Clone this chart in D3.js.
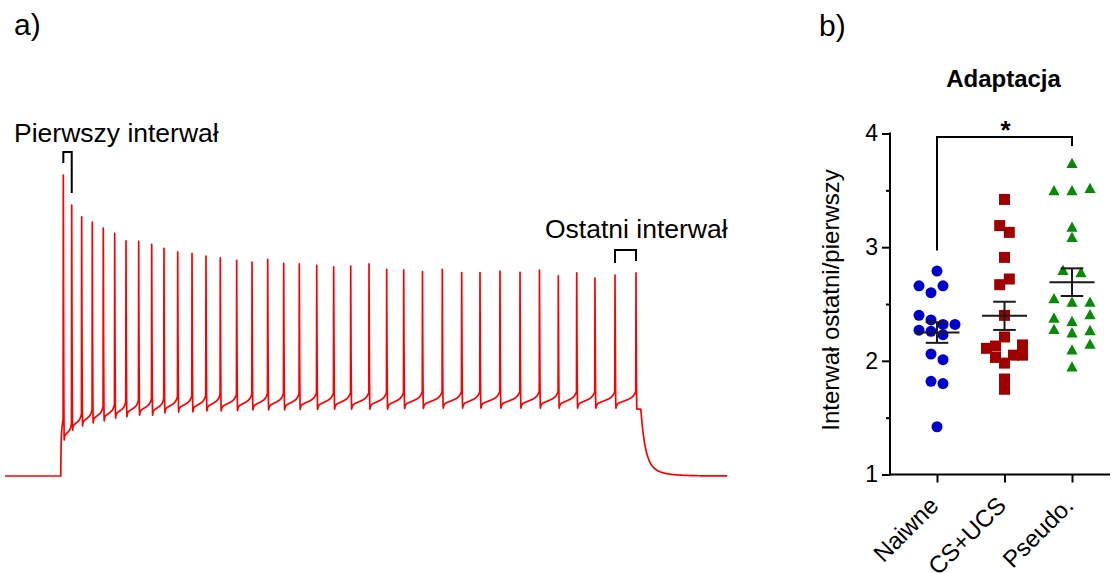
<!DOCTYPE html>
<html>
<head>
<meta charset="utf-8">
<script src="https://cdn.jsdelivr.net/npm/d3@7"></script>
<style>
  html, body { margin: 0; padding: 0; background: #fff; }
  svg { display: block; font-family: "Liberation Sans", Arial, sans-serif; }
</style>
</head>
<body>
<svg id="fig" width="1118" height="573"></svg>
<script>
// ---------- panel a: membrane potential during a depolarising current step ----------
const stimOn = 96.3;          // ms, current step start
const stimOff = 1097.8;       // ms, current step end
const recordEnd = 1247;       // ms
const restPotential = -70;    // mV
const onsetThreshold = -51;   // mV, potential reached just before the first spike

// spike times (ms)
const spikeTimes = [100.7, 115.2, 132.4, 150.7, 169.7, 189.4, 208.9, 230.8, 253.3, 274.5,
  298.2, 322.9, 347.0, 371.7, 400.0, 426.5, 453.6, 481.2, 508.1, 538.2,
  567.5, 596.9, 628.5, 659.0, 688.4, 720.8, 755.0, 788.5, 820.1, 854.6,
  889.2, 922.8, 955.3, 987.1, 1018.6, 1053.2, 1089.4];
// spike peak potentials (mV)
const spikePeaks = [30.3, 20.3, 16.4, 14.6, 12.6, 10.9, 8.4, 8.2, 7.2, 5.9,
  4.7, 4.2, 3.3, 2.7, 1.9, 1.3, 2.2, 0.9, 0.7, 0.2,
  -0.3, 0.0, 0.7, -1.1, -1.3, -1.9, -1.1, -2.2, -2.2, -1.7,
  -2.1, -1.4, -3.3, -2.3, -4.0, -3.0, -2.3];
// after-hyperpolarisation minimum following each spike (mV)
const ahpTroughs = [-58.0, -54.7, -53.3, -52.3, -51.6, -50.7, -50.2, -49.7, -49.7, -49.0,
  -48.7, -48.6, -48.3, -48.3, -48.2, -48.0, -48.0, -48.0, -47.8, -47.8,
  -47.7, -47.7, -47.7, -47.7, -47.5, -47.5, -47.4, -47.4, -47.4, -47.4,
  -47.4, -47.4, -47.4, -47.4, -47.4, -47.4, -47.7];

// ---------- panel b: adaptation ratio (last / first interspike interval) ----------
const groups = ["Naiwne", "CS+UCS", "Pseudo."];
const naiwne = [2.79, 2.66, 2.66, 2.60, 2.40, 2.36, 2.32, 2.32, 2.27, 2.26, 2.23, 2.06, 2.01, 1.82, 1.80, 1.42];
const naiwneJitter = [0, -1.5, 0.5, -0.5, -1.5, -0.5, 0.5, 1.5, -1.5, -0.5, 0.5, -0.5, 0.5, -0.5, 0.5, 0];
const csUcs = [3.42, 3.19, 3.13, 2.91, 2.72, 2.67, 2.40, 2.21, 2.14, 2.13, 2.11, 2.05, 2.05, 2.03, 1.98, 1.84, 1.75];
const csUcsJitter = [0, -0.4, 0.4, 0, 0.4, -0.4, 0, 0, 1.5, -0.75, -1.5, 0.75, 1.5, -0.75, 0, 0, 0];
const pseudo = [3.74, 3.52, 3.50, 3.50, 3.18, 3.09, 2.80, 2.78, 2.55, 2.52, 2.52, 2.41, 2.38, 2.35, 2.28, 2.27, 2.25, 2.15, 2.10, 1.95];
const pseudoJitter = [0, 1.5, -1.5, 0, 0, 0, -0.75, 0.75, -1.5, 0, 1.5, 1.5, -1.5, 0, -1.5, 1.5, 0, 1.5, 0, 0];
const yTicks = [1, 2, 3, 4];
const yMinorTicks = [1.5, 2.5, 3.5];

const svg = d3.select("#fig");
const FONT = "Liberation Sans, Arial, sans-serif";

// panel letters
svg.append("text").attr("x", 14).attr("y", 35).attr("font-size", 30).text("a)");
svg.append("text").attr("x", 819).attr("y", 36).attr("font-size", 30).text("b)");

// ===================== panel a =====================
const xA = d3.scaleLinear().domain([0, 1250]).range([5, 729]);
const yA = d3.scaleLinear().domain([-70, 30]).range([476, 176]);

const riseDur = 0.4, fallDur = 1.6, rampDepol = 5.5;
const nSp = spikeTimes.length;

// interspike ramp shape: quick partial recovery, slow drift, then accelerating to threshold
function ramp(s) {
  return 0.25 * (1 - Math.exp(-s / 0.04)) + 0.45 * s + 0.3 * Math.pow(s, 8);
}

function vm(t) {
  if (t < stimOn) return restPotential;
  if (t >= stimOff) {
    const v0 = ahpTroughs[nSp - 1], dt = t - stimOff;
    return restPotential + (v0 - restPotential) * (0.8 * Math.exp(-dt / 7.5) + 0.2 * Math.exp(-dt / 25));
  }
  const k = d3.bisectRight(spikeTimes, t) - 1;   // last spike at or before t
  // upstroke of the next spike
  if (k + 1 < nSp && t > spikeTimes[k + 1] - riseDur) {
    const j = k + 1;
    const thr = j === 0 ? onsetThreshold : ahpTroughs[j - 1] + rampDepol;
    const u = (t - (spikeTimes[j] - riseDur)) / riseDur;
    return thr + (spikePeaks[j] - thr) * u;
  }
  if (k < 0) {
    const dt = t - stimOn, L = spikeTimes[0] - riseDur - stimOn;
    return restPotential + (onsetThreshold - restPotential) *
      (0.7 * (1 - Math.exp(-dt / 0.5)) + 0.3 * dt / L);
  }
  const ts = spikeTimes[k];
  if (t < ts + fallDur) {
    const u = (t - ts) / fallDur;
    return spikePeaks[k] + (ahpTroughs[k] - spikePeaks[k]) * (1 - (1 - u) * (1 - u));
  }
  if (k === nSp - 1) return ahpTroughs[k];
  const a = ts + fallDur, b = spikeTimes[k + 1] - riseDur;
  return ahpTroughs[k] + rampDepol * ramp((t - a) / (b - a));
}

const tSamples = d3.range(0, recordEnd, 0.1)
  .concat(spikeTimes, spikeTimes.map(t => t - riseDur), [stimOn, stimOff])
  .sort((a, b) => a - b);

svg.append("path")
  .datum(tSamples)
  .attr("fill", "none")
  .attr("stroke", "#ff0000")
  .attr("stroke-width", 1.7)
  .attr("stroke-linejoin", "round")
  .attr("d", d3.line().x(t => xA(t)).y(t => yA(vm(t))));

// interval brackets
function bracket(i, j, legGap, topGap) {
  const x1 = xA(spikeTimes[i]), x2 = xA(spikeTimes[j]);
  const y1 = yA(spikePeaks[i]) - legGap, y2 = yA(spikePeaks[j]) - legGap;
  const top = Math.min(y1, y2) - topGap;
  svg.append("path")
    .attr("d", `M${x1},${y1}V${top}H${x2}V${y2}`)
    .attr("fill", "none").attr("stroke", "#000").attr("stroke-width", 2);
}
bracket(0, 1, 12, 11);
bracket(nSp - 2, nSp - 1, 12, 11);

svg.append("text").attr("x", 14).attr("y", 142).attr("font-size", 26.5).text("Pierwszy interwał");
svg.append("text").attr("x", 545).attr("y", 237.5).attr("font-size", 26.5).text("Ostatni interwał");

// ===================== panel b =====================
const yB = d3.scaleLinear().domain([1, 4]).range([474.5, 133.5]);
const xB = d3.scalePoint().domain(groups).range([937, 1072]);
const jit = d3.scaleLinear().domain([-1, 1]).range([-12, 12]);

const series = [
  { name: groups[0], values: naiwne, jitter: naiwneJitter, color: "#0000cc", shape: "circle" },
  { name: groups[1], values: csUcs, jitter: csUcsJitter, color: "#a00000", shape: "square" },
  { name: groups[2], values: pseudo, jitter: pseudoJitter, color: "#078a07", shape: "triangle" }
];

// axes
const yAxis = d3.axisLeft(yB).tickValues(yTicks).tickSize(8).tickSizeOuter(0).tickPadding(4)
  .tickFormat(d3.format("d"));
const gy = svg.append("g").attr("transform", "translate(890,0)").call(yAxis);
gy.select(".domain").attr("stroke-width", 2).attr("d", `M0,${yB(1) + 1}V${yB(4) - 1}`);
gy.selectAll(".tick line").attr("stroke-width", 2);
gy.selectAll(".tick text").attr("font-size", 23).attr("font-family", FONT).attr("fill", "#000");
const gyMinor = svg.append("g").attr("transform", "translate(890,0)")
  .call(d3.axisLeft(yB).tickValues(yMinorTicks).tickSize(4).tickSizeOuter(0).tickFormat(""));
gyMinor.select(".domain").remove();
gyMinor.selectAll(".tick line").attr("stroke-width", 2);

const xAxis = d3.axisBottom(xB).tickSize(8).tickSizeOuter(0).tickFormat("");
const gx = svg.append("g").attr("transform", `translate(0,${yB(1)})`).call(xAxis);
gx.select(".domain").remove();
gx.selectAll(".tick line").attr("stroke-width", 2);
svg.append("line").attr("x1", 889).attr("x2", 1110).attr("y1", yB(1)).attr("y2", yB(1))
  .attr("stroke", "#000").attr("stroke-width", 2);

// rotated category labels
svg.append("g").selectAll("text").data(groups).join("text")
  .attr("transform", d => `translate(${xB(d) + 3},507) rotate(-45)`)
  .attr("text-anchor", "end")
  .attr("font-size", 24)
  .text(d => d);

// y-axis title
svg.append("text")
  .attr("transform", "translate(839,300) rotate(-90)")
  .attr("text-anchor", "middle")
  .attr("font-size", 24)
  .text("Interwał ostatni/pierwszy");

// chart title
svg.append("text").attr("x", 1003.5).attr("y", 87).attr("text-anchor", "middle")
  .attr("font-size", 24).attr("font-weight", "bold").text("Adaptacja");

// points
const sz = 11;
series.forEach(s => {
  const g = svg.append("g").attr("fill", s.color);
  const pts = s.values.map((v, i) => ({ x: xB(s.name) + jit(s.jitter[i]), y: yB(v) }));
  if (s.shape === "circle") {
    g.selectAll("circle").data(pts).join("circle")
      .attr("cx", d => d.x).attr("cy", d => d.y).attr("r", 5.5);
  } else if (s.shape === "square") {
    g.selectAll("rect").data(pts).join("rect")
      .attr("x", d => d.x - sz / 2).attr("y", d => d.y - sz / 2)
      .attr("width", sz).attr("height", sz);
  } else {
    g.selectAll("path").data(pts).join("path")
      .attr("d", d => `M${d.x},${d.y - 5.3}L${d.x + 5.6},${d.y + 5}L${d.x - 5.6},${d.y + 5}Z`);
  }
});

// mean ± SEM
series.forEach(s => {
  const m = d3.mean(s.values);
  const sem = d3.deviation(s.values) / Math.sqrt(s.values.length);
  const cx = xB(s.name);
  const g = svg.append("g").attr("stroke", "#1a1a1a").attr("stroke-width", 2);
  g.append("line").attr("x1", cx - 22.5).attr("x2", cx + 22.5).attr("y1", yB(m)).attr("y2", yB(m));
  g.append("line").attr("x1", cx).attr("x2", cx).attr("y1", yB(m - sem)).attr("y2", yB(m + sem));
  [m - sem, m + sem].forEach(v =>
    g.append("line").attr("x1", cx - 11.3).attr("x2", cx + 11.3).attr("y1", yB(v)).attr("y2", yB(v)));
});

// significance bracket Naiwne vs Pseudo.
const sigTop = 3.97, sigLeft = 2.97, sigRight = 3.89;
svg.append("path")
  .attr("d", `M${xB(groups[0])},${yB(sigLeft)}V${yB(sigTop)}H${xB(groups[2])}V${yB(sigRight)}`)
  .attr("fill", "none").attr("stroke", "#000").attr("stroke-width", 2);
svg.append("text").attr("x", (xB(groups[0]) + xB(groups[2])) / 2 + 1).attr("y", 139)
  .attr("text-anchor", "middle").attr("font-size", 26).attr("font-weight", "bold").text("*");
</script>
</body>
</html>
